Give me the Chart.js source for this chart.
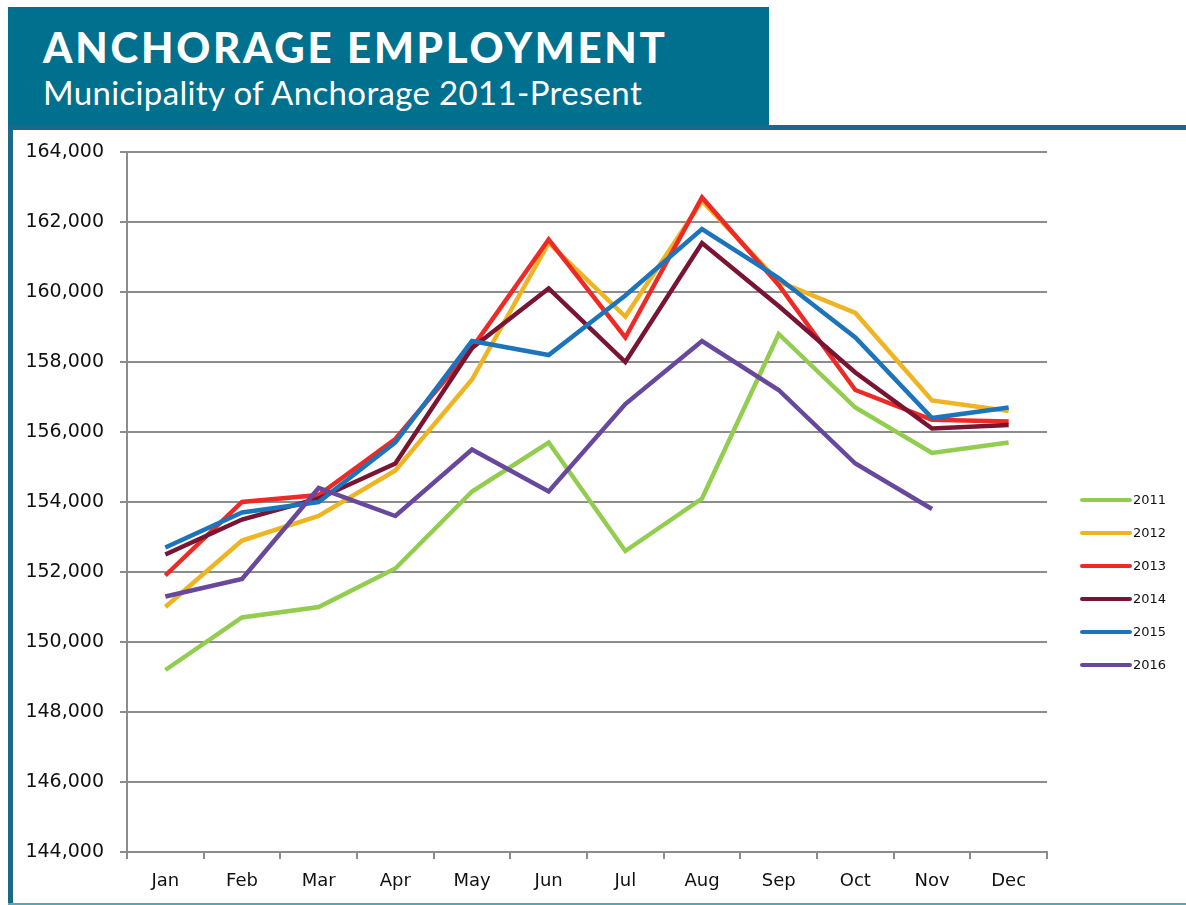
<!DOCTYPE html>
<html><head><meta charset="utf-8">
<script src="https://cdn.jsdelivr.net/npm/chart.js@4.4.0/dist/chart.umd.min.js"></script>
<style>
html,body{margin:0;padding:0;background:#fff;width:1186px;height:905px;overflow:hidden;position:relative}
#hdr{position:absolute;left:8px;top:7px;width:761px;height:118px;background:#00708f}
#t1{position:absolute;left:35px;top:19px;font-family:Lato,sans-serif;font-weight:900;font-size:42px;line-height:42px;color:#fff;white-space:nowrap;letter-spacing:2.75px}
#t2{position:absolute;left:35px;top:69px;font-family:Lato,sans-serif;font-weight:400;font-size:33px;line-height:33px;color:#fff;white-space:nowrap;letter-spacing:0.35px}
#band{position:absolute;left:8px;top:125px;width:1178px;height:5px;background:#1a6a86}
#lbar{position:absolute;left:8px;top:125px;width:5px;height:779px;background:#1a6a86}
#bline{position:absolute;left:8px;top:903px;width:1178px;height:2px;background:#5aa5bb}
#cv{position:absolute;left:13px;top:130px}
</style></head>
<body>
<div id="hdr"><div id="t1">ANCHORAGE EMPLOYMENT</div><div id="t2">Municipality of Anchorage 2011-Present</div></div>
<div id="band"></div><div id="lbar"></div><div id="bline"></div>
<canvas id="cv" width="1173" height="773"></canvas>
<script>
const months = ["Jan","Feb","Mar","Apr","May","Jun","Jul","Aug","Sep","Oct","Nov","Dec"];
const seriesNames = ["2011","2012","2013","2014","2015","2016"];
const y2011 = [149200,150700,151000,152100,154300,155700,152600,154100,158800,156700,155400,155700];
const y2012 = [151000,152900,153600,154900,157500,161400,159300,162600,160300,159400,156900,156600];
const y2013 = [151900,154000,154200,155800,158400,161500,158700,162700,160200,157200,156350,156300];
const y2014 = [152500,153500,154100,155100,158400,160100,158000,161400,159600,157700,156100,156200];
const y2015 = [152700,153700,154000,155700,158600,158200,159900,161800,160400,158700,156400,156700];
const y2016 = [151300,151800,154400,153600,155500,154300,156800,158600,157200,155100,153800,null];
const yTicks = [144000,146000,148000,150000,152000,154000,156000,158000,160000,162000,164000];
const colors = ["#92cd50","#eeb422","#ee2a26","#7a1433","#1c75bc","#68489c"];
const values = [y2011,y2012,y2013,y2014,y2015,y2016];

const legendPlugin = {
  id:'customLegend',
  afterDraw(chart){
    const ctx = chart.ctx;
    ctx.save();
    chart.data.datasets.forEach((ds,i)=>{
      const y = 370 + 33*i;
      ctx.strokeStyle = ds.borderColor;
      ctx.lineWidth = 4;
      ctx.lineCap = 'round';
      ctx.beginPath(); ctx.moveTo(1069,y); ctx.lineTo(1117,y); ctx.stroke();
      ctx.fillStyle = '#111';
      ctx.font = '13px "DejaVu Sans"';
      ctx.textBaseline = 'middle';
      ctx.textAlign = 'left';
      ctx.fillText(ds.label, 1120, y+1);
    });
    ctx.restore();
  }
};

new Chart(document.getElementById('cv'), {
  type:'line',
  data:{
    labels: months,
    datasets: seriesNames.map((n,i)=>({
      label:n, data:values[i], borderColor:colors[i], backgroundColor:colors[i],
      borderWidth:4.5, pointRadius:0, tension:0, order:5-i, spanGaps:false,
      borderJoinStyle:'miter'
    }))
  },
  options:{
    responsive:false, animation:false, devicePixelRatio:1,
    layout:{padding:{left:0,right:139,top:22,bottom:0}},
    plugins:{legend:{display:false}, tooltip:{enabled:false}},
    scales:{
      x:{
        offset:true,
        grid:{offset:true, drawOnChartArea:false, drawTicks:true, tickLength:7, color:'#8c8c8c', lineWidth:2},
        border:{display:true, color:'#8c8c8c', width:2},
        ticks:{color:'#111', font:{family:'"DejaVu Sans"', size:18}, padding:12, maxRotation:0},
        afterFit(s){ s.height = 51; }
      },
      y:{
        min:144000, max:164000,
        afterBuildTicks(s){ s.ticks = yTicks.map(v=>({value:v})); },
        grid:{color:'#8c8c8c', lineWidth:2, tickLength:7, drawTicks:true},
        border:{display:true, color:'#8c8c8c', width:2},
        ticks:{color:'#111', font:{family:'"DejaVu Sans"', size:19}, padding:16,
          callback:(v)=>v.toLocaleString('en-US')},
        afterFit(s){ s.width = 114; s.paddingTop = 0; }
      }
    }
  },
  plugins:[legendPlugin]
});
</script>
</body></html>
